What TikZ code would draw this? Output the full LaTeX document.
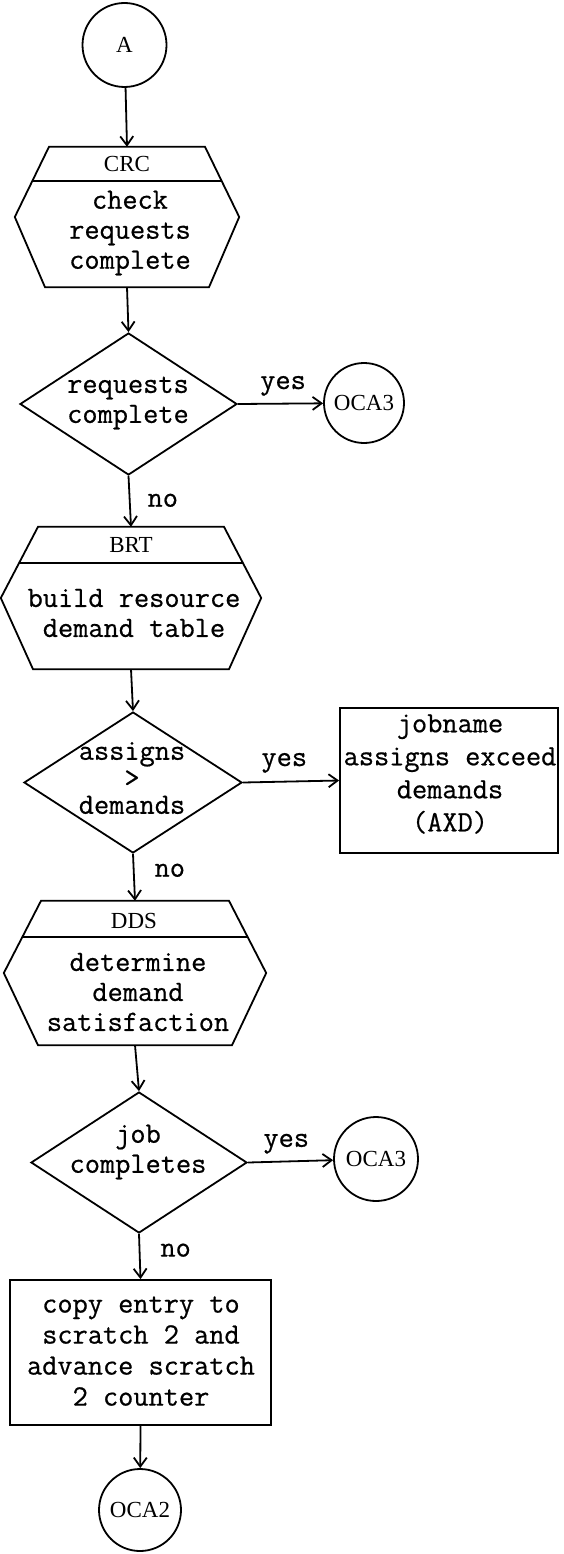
\documentclass[tikz,border=0pt]{standalone}
\usepackage{fontspec}
\setmainfont{Liberation Serif}
\setmonofont{Latin Modern Mono}[FakeBold=0.6]
\usetikzlibrary{shapes.geometric,arrows.meta,calc}
\tikzset{
  line/.style={line width=1.8pt, line join=miter},
  flow/.style={line, -{Straight Barb[length=9pt,width=13pt]}},
  txt/.style={font=\ttfamily\fontsize{29.5}{30}\selectfont, align=center, inner sep=0pt},
  tag/.style={font=\fontsize{23}{26}\selectfont, inner sep=0pt},
  lbl/.style={font=\ttfamily\fontsize{29.5}{30}\selectfont, inner sep=0pt},
  conn/.style={circle, draw, line, inner sep=0pt, font=\fontsize{23}{26}\selectfont},
  decision/.style={diamond, draw, line, inner sep=0pt},
  procbox/.style={rectangle, draw, line, inner sep=0pt},
  hexframe/.style={rectangle, inner sep=0pt},
}
% hexagonal predefined-process box drawn round an invisible frame node:
% #1 frame node, #2 top half width, #3 bottom half width, #4 divider position
\newcommand\hexagonbox[4]{%
  \draw[line] ($(#1.north)+(-#2,0)$) coordinate (#1-tl)
     -- ($(#1.north)+(#2,0)$) coordinate (#1-tr)
     -- (#1.east) -- ($(#1.south)+(#3,0)$) -- ($(#1.south)+(-#3,0)$)
     -- (#1.west) -- cycle;
  \draw[line] ($(#1-tl)!#4!(#1.west)$) -- ($(#1-tr)!#4!(#1.east)$);
}
\begin{document}
\begin{tikzpicture}[x=1pt,y=-1pt]
\path[fill=white] (0,0) rectangle (563,1554);
\useasboundingbox (0,0) rectangle (563,1554);

% entry connector
\node[conn, minimum size=84pt] (a) at (124.5,45) {A};

% CRC
\node[hexframe, minimum width=224pt, minimum height=140pt] (crc) at (127,217) {};
\hexagonbox{crc}{78}{82}{0.486}
\node[tag] (crc-tag) at (127,164) {CRC};
\node[txt] (crc-txt) at (130,233) {check\\requests\\complete};

% requests complete?
\node[decision, minimum width=217pt, minimum height=142pt] (d1) at (128.5,404) {};
\node[txt] (d1-txt) at (128,403) {requests\\complete};
\node[conn, minimum size=80pt] (x1) at (364,403) {OCA3};

% BRT
\node[hexframe, minimum width=260pt, minimum height=142pt] (brt) at (131,598) {};
\hexagonbox{brt}{93}{98}{0.507}
\node[tag] (brt-tag) at (131,545) {BRT};
\node[txt] (brt-txt) at (134,613) {build resource\\demand table};

% assigns > demands?
\node[decision, minimum width=218pt, minimum height=141pt] (d2) at (133,782.5) {};
\node[txt, font=\ttfamily\fontsize{29.5}{27}\selectfont] (d2-txt) at (132,778) {assigns\\>\\demands};
\node[procbox, minimum width=218pt, minimum height=145pt] (axd) at (449,780.5) {};
\node[txt, font=\ttfamily\fontsize{29.5}{33}\selectfont] (axd-txt) at (450,774) {jobname\\assigns exceed\\demands\\(AXD)};

% DDS
\node[hexframe, minimum width=262pt, minimum height=144pt] (dds) at (135,973) {};
\hexagonbox{dds}{94}{97}{0.5}
\node[tag] (dds-tag) at (134,921) {DDS};
\node[txt] (dds-txt) at (138,992) {determine\\demand\\satisfaction};

% job completes?
\node[decision, minimum width=216pt, minimum height=141pt] (d3) at (139,1162.5) {};
\node[txt] (d3-txt) at (138,1152) {job\\completes};
\node[conn, minimum size=84pt] (x2) at (376,1159) {OCA3};

% copy entry
\node[procbox, minimum width=261pt, minimum height=145pt] (cp) at (140.5,1352.5) {};
\node[txt, font=\ttfamily\fontsize{29.5}{31}\selectfont] (cp-txt) at (141,1351) {copy entry to\\scratch 2 and\\advance scratch\\2 counter};

\node[conn, minimum size=82pt] (x3) at (140,1510) {OCA2};

% connectors
\draw[flow] (a) -- (crc.north);
\draw[flow] (crc.south) -- (d1.north);
\draw[flow] (d1.east) -- node[lbl, pos=0.53, above=7pt] (y1) {yes} (x1);
\draw[flow] (d1.south) -- node[lbl, pos=0.48, right=17pt] (n1) {no} (brt.north);
\draw[flow] (brt.south) -- (d2.north);
\draw[flow] (d2.east) -- node[lbl, pos=0.43, above=8pt] (y2) {yes} (axd.west);
\draw[flow] (d2.south) -- node[lbl, pos=0.35, right=20pt] (n2) {no} (dds.north);
\draw[flow] (dds.south) -- (d3.north);
\draw[flow] (d3.east) -- node[lbl, pos=0.45, above=7pt] (y3) {yes} (x2);
\draw[flow] (d3.south) -- node[lbl, pos=0.36, right=20pt] (n3) {no} (cp.north);
\draw[flow] (cp.south) -- (x3);
\end{tikzpicture}
\end{document}
